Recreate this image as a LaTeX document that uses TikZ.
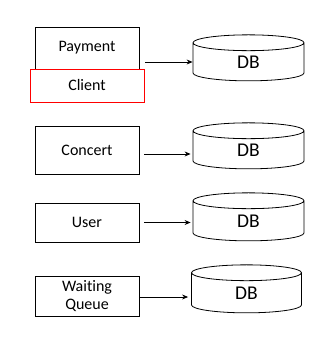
\documentclass[tikz,border=0pt]{standalone}
\usepackage{fontspec}
\setmainfont{Carlito}[Ligatures={NoCommon,NoRare}]
\usetikzlibrary{positioning,arrows.meta,shapes.geometric}
\newcommand{\dblabel}{\raisebox{-3.5pt}{DB}}
\tikzset{
  svc/.style={rectangle,draw,line width=0.8pt,fill=white,
              minimum width=104pt,minimum height=42pt,inner sep=1pt,
              font=\fontsize{16}{18.5}\selectfont,align=center},
  clientbox/.style={svc,draw=red,minimum width=114pt,minimum height=33pt},
  db/.style={cylinder,shape border rotate=90,draw,line width=0.8pt,fill=white,
             minimum width=111pt,minimum height=46pt,aspect=0.7,inner sep=0pt,
             font=\fontsize{19.5}{22}\selectfont},
  edge/.style={-{Stealth[length=6pt,width=5pt]},line width=0.8pt},
}
\begin{document}
\begin{tikzpicture}[x=1pt,y=-1pt]
\useasboundingbox (0,0) rectangle (335,339);

% Services (left column)
\node[svc] (payment) at (87,48) {Payment};
\node[clientbox] (client) at (87,85.5) {Client};
\node[svc,minimum height=48pt] (concert) at (87,150) {Concert};
\node[svc,minimum height=39pt] (user) at (87,222.5) {User};
\node[svc,minimum height=40pt] (queue) at (87,296) {Waiting\\Queue};

% Databases (right column)
\node[db] (db1) at (248.5,62) {\dblabel};
\node[db] (db2) at (248.5,150) {\dblabel};
\node[db,minimum height=48pt] (db3) at (248.5,221) {\dblabel};
\node[db,minimum width=110pt,minimum height=48pt] (db4) at (246.5,293) {\dblabel};

% Edges
\draw[edge,shorten <=1pt] (client.east |- db1.west) -- (db1.west);
\draw[edge,shorten <=5pt,shorten >=2pt] ([yshift=-4pt]concert.east) -- ([yshift=-4pt]concert.east -| db2.west);
\draw[edge,shorten <=5pt,shorten >=2pt] (user.east) -- (user.east -| db3.west);
\draw[edge,shorten >=3pt] ([yshift=-1pt]queue.east) -- ([yshift=-1pt]queue.east -| db4.west);

\end{tikzpicture}
\end{document}
